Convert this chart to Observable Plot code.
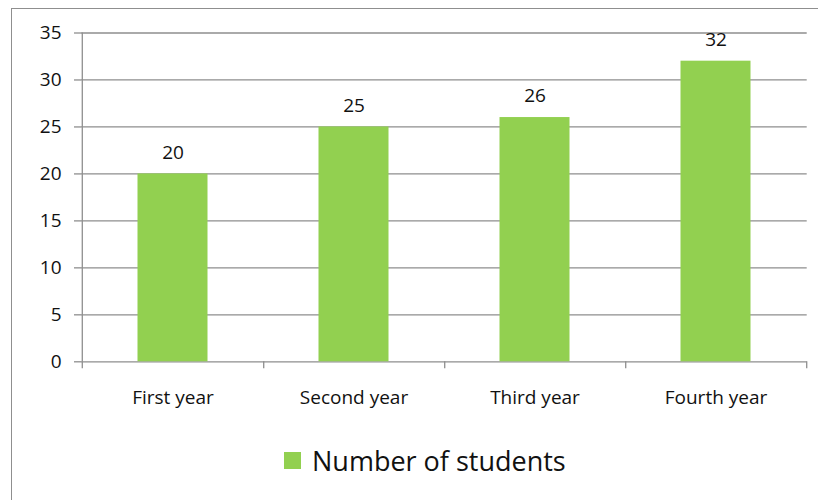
<!DOCTYPE html>
<html>
<head>
<meta charset="utf-8">
<script src="https://cdn.jsdelivr.net/npm/d3@7"></script>
<script src="https://cdn.jsdelivr.net/npm/@observablehq/plot@0.6"></script>
<style>
  html, body { margin: 0; padding: 0; background: #fff; overflow: hidden; width: 818px; height: 500px; }
  #wrap { position: relative; width: 818px; height: 500px; }
  #border { position: absolute; left: 11px; top: 8px; width: 900px; height: 600px; border: 1.5px solid #8f8f8f; box-sizing: border-box; }
  #chart { position: absolute; left: 0; top: 0; }
  #legend { position: absolute; left: 284px; top: 442px; display: flex; align-items: center; font-family: "Open Sans", sans-serif; font-size: 27px; color: #111; }
  #legend .sw { width: 17px; height: 17px; background: #92d050; margin-right: 11px; }
</style>
</head>
<body>
<div id="wrap">
  <div id="border"></div>
  <div id="chart"></div>
  <div id="legend"><div class="sw"></div><span id="legendText"></span></div>
</div>
<script>
const categories = ["First year", "Second year", "Third year", "Fourth year"];
const students = [20, 25, 26, 32];
const yTicks = [0, 5, 10, 15, 20, 25, 30, 35];
const seriesName = "Number of students";

const data = categories.map((c, i) => ({category: c, value: students[i]}));

const W = 818, H = 420;
const mL = 81, mR = 11.3, mT = 32.5, mB = 58.7;
const half = (W - mL - mR) / categories.length / 2;
const gridColor = "#8e8e8e";
const font = "'Open Sans', sans-serif";
const textColor = "#111";

const chart = Plot.plot({
  width: W,
  height: H,
  marginLeft: mL,
  marginRight: mR,
  marginTop: mT,
  marginBottom: mB,
  style: {fontFamily: font, fontSize: "19px", color: textColor, background: "transparent"},
  x: {domain: categories, padding: 0, label: null},
  y: {domain: [0, 35], label: null},
  marks: [
    Plot.gridY(yTicks, {stroke: gridColor, strokeOpacity: 1, strokeWidth: 1.3}),
    Plot.barY(data, {x: "category", y: "value", fill: "#92d050", insetLeft: 55.5, insetRight: 55.5}),
    // left axis line
    Plot.ruleX([categories[0]], {dx: -half, y1: 0, y2: 35, stroke: gridColor, strokeWidth: 1.3}),
    // category boundary ticks below baseline
    Plot.ruleX(categories, {dx: half, y1: 0, y2: -0.75, stroke: gridColor, strokeWidth: 1.3}),
    Plot.ruleX([categories[0]], {dx: -half, y1: 0, y2: -0.75, stroke: gridColor, strokeWidth: 1.3}),
    Plot.axisY(yTicks, {tickSize: 7, tickPadding: 13, stroke: gridColor, strokeWidth: 1.3, fontSize: 19, fill: textColor}),
    Plot.axisX({tickSize: 0, tickPadding: 29, fontSize: 19, fill: textColor}),
    Plot.text(data, {x: "category", y: "value", text: d => String(d.value), dy: -21.5, fontSize: 19, fill: textColor})
  ]
});
document.getElementById("chart").appendChild(chart);
document.getElementById("legendText").textContent = seriesName;
</script>
</body>
</html>
